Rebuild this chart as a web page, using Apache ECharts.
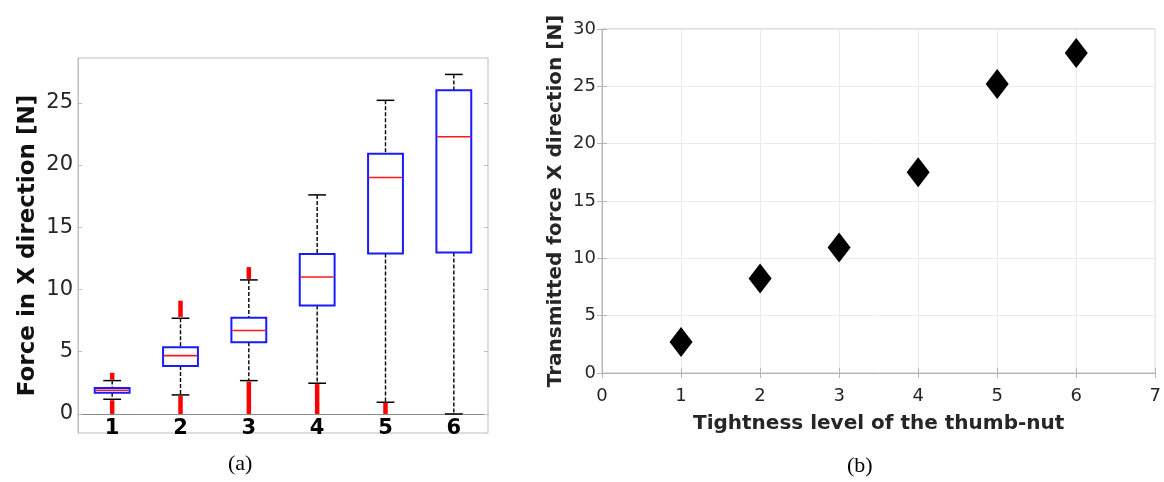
<!DOCTYPE html>
<html><head><meta charset="utf-8">
<script src="https://cdn.jsdelivr.net/npm/echarts@6/dist/echarts.min.js"></script>
<style>html,body{margin:0;padding:0;background:#fff}#c{width:1164px;height:482px}</style>
</head><body><div id="c"></div>
<script>
// ---- Panel (a): box plot data ----
const categories = ['1', '2', '3', '4', '5', '6'];
const lowerWhisker = [1.18, 1.53, 2.68, 2.47, 0.94, 0.0];
const q1 = [1.70, 3.86, 5.76, 8.71, 12.89, 12.97];
const median = [1.90, 4.69, 6.70, 11.0, 19.0, 22.27];
const q3 = [2.09, 5.36, 7.72, 12.86, 20.9, 26.0];
const upperWhisker = [2.68, 7.69, 10.77, 17.6, 25.2, 27.28];
// outlier clusters: [category index, from, to]
const outlierRanges = [
  [0, 0.0, 1.1], [0, 2.75, 3.3],
  [1, 0.0, 1.45], [1, 7.8, 9.1],
  [2, 0.0, 2.6], [2, 10.85, 11.8],
  [3, 0.0, 2.4],
  [4, 0.0, 0.9]
];
const leftTicks = [0, 5, 10, 15, 20, 25];

// ---- Panel (b): scatter data ----
const tightness = [1, 2, 3, 4, 5, 6];
const transmitted = [2.7, 8.24, 10.94, 17.5, 25.2, 27.9];

const boxData = categories.map((c, i) => [i, lowerWhisker[i], q1[i], median[i], q3[i], upperWhisker[i]]);
const scatterData = tightness.map((t, i) => [t, transmitted[i]]);

const FONT = '"DejaVu Sans", "Liberation Sans", Arial, sans-serif';

function renderBox(params, api) {
  const x = api.value(0);
  const pLW = api.coord([x, api.value(1)]);
  const pQ1 = api.coord([x, api.value(2)]);
  const pMed = api.coord([x, api.value(3)]);
  const pQ3 = api.coord([x, api.value(4)]);
  const pUW = api.coord([x, api.value(5)]);
  const band = api.size([1, 0])[0];
  const bw = band * 0.51, cw = band * 0.26;
  const cx = pMed[0];
  const dash = { stroke: '#000', lineWidth: 1.4, lineDash: [4, 2] };
  const solid = { stroke: '#000', lineWidth: 1.5 };
  return {
    type: 'group', children: [
      { type: 'line', shape: { x1: cx, y1: pUW[1], x2: cx, y2: pQ3[1] }, style: dash },
      { type: 'line', shape: { x1: cx, y1: pQ1[1], x2: cx, y2: pLW[1] }, style: dash },
      { type: 'line', shape: { x1: cx - cw / 2, y1: pUW[1], x2: cx + cw / 2, y2: pUW[1] }, style: solid },
      { type: 'line', shape: { x1: cx - cw / 2, y1: pLW[1], x2: cx + cw / 2, y2: pLW[1] }, style: solid },
      { type: 'rect', shape: { x: cx - bw / 2, y: pQ3[1], width: bw, height: pQ1[1] - pQ3[1] },
        style: { fill: '#fff', stroke: '#1a1aff', lineWidth: 2 } },
      { type: 'line', shape: { x1: cx - bw / 2 + 1, y1: pMed[1], x2: cx + bw / 2 - 1, y2: pMed[1] },
        style: { stroke: '#ff1a1a', lineWidth: 1.6 } }
    ]
  };
}

function renderOutlier(params, api) {
  const x = api.value(0);
  const a = api.coord([x, api.value(1)]);
  const b = api.coord([x, api.value(2)]);
  return { type: 'line', shape: { x1: a[0], y1: a[1], x2: b[0], y2: b[1] },
    style: { stroke: '#ff0000', lineWidth: 4.5 } };
}

const chart = echarts.init(document.getElementById('c'));
chart.setOption({
  animation: false,
  backgroundColor: '#fff',
  grid: [
    { left: 78, top: 58, width: 410, height: 375, show: true, borderColor: '#bdbdbd', borderWidth: 1, backgroundColor: 'transparent' },
    { left: 602, top: 29, width: 555, height: 344, show: true, borderColor: '#bdbdbd', borderWidth: 1, backgroundColor: 'transparent' }
  ],
  xAxis: [
    { type: 'category', gridIndex: 0, data: categories, boundaryGap: true,
      axisLine: { lineStyle: { color: '#8a8a8a', width: 1 } },
      axisTick: { show: false },
      axisLabel: { fontFamily: FONT, fontSize: 21, fontWeight: 'bold', color: '#000', margin: -15 },
      splitLine: { show: false } },
    { type: 'value', gridIndex: 1, min: 0, max: 7, interval: 1, position: 'bottom',
      name: 'Tightness level of the thumb-nut', nameLocation: 'middle', nameGap: 41,
      nameTextStyle: { fontFamily: FONT, fontSize: 20, fontWeight: 'bold', color: '#262626' },
      axisLine: { lineStyle: { color: '#b5b5b5' } },
      axisTick: { show: true, inside: true, length: 5, lineStyle: { color: '#b5b5b5' } },
      axisLabel: { fontFamily: FONT, fontSize: 18, color: '#262626', margin: 14 },
      splitLine: { show: true, lineStyle: { color: '#ebebeb' } } },
    { type: 'value', gridIndex: 1, min: 0, max: 7, interval: 1, position: 'top',
      axisLine: { show: false },
      axisTick: { show: true, inside: true, length: 5, lineStyle: { color: '#b5b5b5' } },
      axisLabel: { show: false }, splitLine: { show: false } }
  ],
  yAxis: [
    { type: 'value', gridIndex: 0, min: -1.53, max: 28.6, position: 'left',
      name: 'Force in X direction [N]', nameLocation: 'middle', nameGap: 38,
      nameTextStyle: { fontFamily: FONT, fontSize: 23, fontWeight: 'bold', color: '#111' },
      axisLine: { show: true, lineStyle: { color: '#bdbdbd' } },
      axisTick: { show: true, inside: true, length: 4, customValues: leftTicks, lineStyle: { color: '#bdbdbd' } },
      axisLabel: { fontFamily: FONT, fontSize: 21, color: '#262626', margin: 5, customValues: leftTicks },
      splitLine: { show: false } },
    { type: 'value', gridIndex: 0, min: -1.53, max: 28.6, position: 'right',
      axisLine: { show: false },
      axisTick: { show: true, inside: true, length: 4, customValues: leftTicks, lineStyle: { color: '#bdbdbd' } },
      axisLabel: { show: false }, splitLine: { show: false } },
    { type: 'value', gridIndex: 1, min: 0, max: 30, interval: 5, position: 'left',
      name: 'Transmitted force X direction [N]', nameLocation: 'middle', nameGap: 36,
      nameTextStyle: { fontFamily: FONT, fontSize: 20, fontWeight: 'bold', color: '#262626' },
      axisLine: { show: true, lineStyle: { color: '#b5b5b5' } },
      axisTick: { show: true, inside: true, length: 5, lineStyle: { color: '#b5b5b5' } },
      axisLabel: { fontFamily: FONT, fontSize: 18, color: '#262626', margin: 6 },
      splitLine: { show: true, lineStyle: { color: '#ebebeb' } } },
    { type: 'value', gridIndex: 1, min: 0, max: 30, interval: 5, position: 'right',
      axisLine: { show: false },
      axisTick: { show: true, inside: true, length: 5, lineStyle: { color: '#b5b5b5' } },
      axisLabel: { show: false }, splitLine: { show: false } }
  ],
  series: [
    { type: 'custom', xAxisIndex: 0, yAxisIndex: 0, renderItem: renderOutlier, data: outlierRanges,
      encode: { x: 0, y: [1, 2] }, z: 2, silent: true },
    { type: 'custom', xAxisIndex: 0, yAxisIndex: 0, renderItem: renderBox, data: boxData,
      encode: { x: 0, y: [1, 2, 3, 4, 5] }, z: 3, silent: true },
    { type: 'scatter', xAxisIndex: 1, yAxisIndex: 2, data: scatterData,
      symbol: 'diamond', symbolSize: [23, 30], itemStyle: { color: '#000', opacity: 1 }, z: 4 }
  ],
  graphic: [
    { type: 'text', left: 228, top: 453, style: { text: '(a)', font: '22px "Liberation Serif", "Times New Roman", serif', fill: '#000' } },
    { type: 'text', left: 847, top: 455, style: { text: '(b)', font: '22px "Liberation Serif", "Times New Roman", serif', fill: '#000' } }
  ]
});
</script>
</body></html>
